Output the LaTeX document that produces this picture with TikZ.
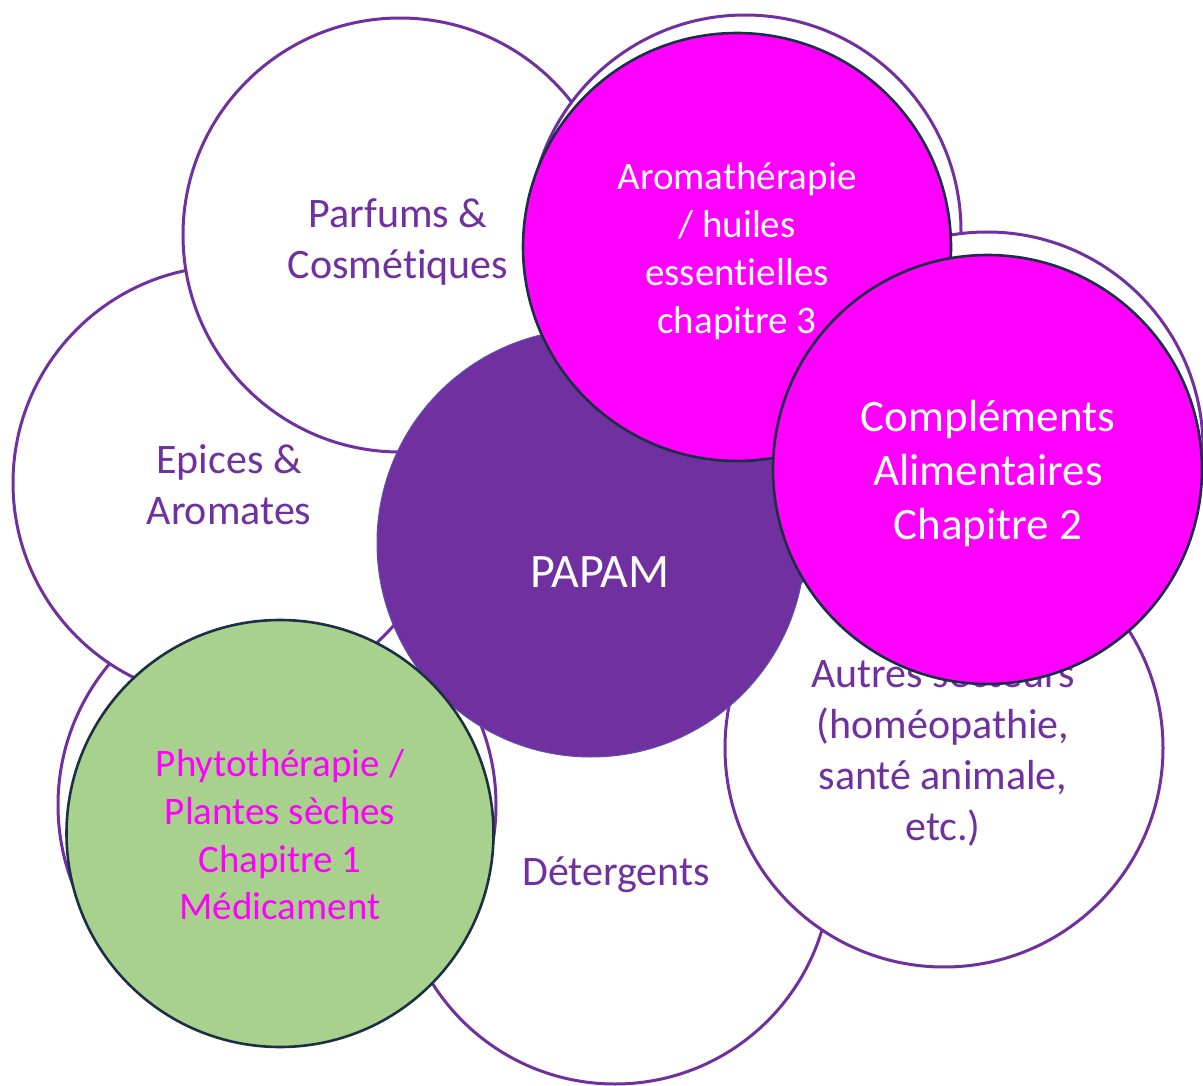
\documentclass[tikz,border=0pt]{standalone}
\usepackage{fontspec}
\setmainfont{Carlito}[Ligatures=CommonOff]
\definecolor{ringpurple}{HTML}{7030A0}
\definecolor{papamfill}{HTML}{7030A0}
\definecolor{hotpink}{HTML}{FF00FF}
\definecolor{leaf}{HTML}{A9D18E}
\definecolor{edgenavy}{HTML}{1B2F45}
\begin{document}
\begin{tikzpicture}[x=1pt,y=-1pt,
  ring/.style={circle, draw=ringpurple, line width=3pt, fill=white, inner sep=0pt},
  hub/.style={circle, fill=papamfill, draw=papamfill!85!cyan, line width=1pt, inner sep=0pt},
  overlay/.style={circle, draw=edgenavy, line width=2.6pt, inner sep=0pt},
  ringtext/.style={align=center, inner sep=0pt, text=ringpurple, font=\fontsize{42}{51}\selectfont},
]
\useasboundingbox (0,0) rectangle (1203,1086);
% white ring circles (bottom to top)
\node[ring, minimum size=432pt] (det) at (615,868) {};
\node[ring, minimum size=438pt] (phyback) at (277,805) {};
\node[ring, minimum size=434pt] (epi) at (230,483) {};
\node[ring, minimum size=434pt] (parf) at (400,235) {};
\node[ring, minimum size=432pt] (aroback) at (745,231) {};
\node[ring, minimum size=432pt] (compback) at (987,448) {};
\node[ring, minimum size=438pt] (autres) at (944,748) {};
% hub
\node[hub, minimum size=428pt] (hubc) at (591,543) {};
% ring texts
\node[ringtext] (tparf) at (398,242) {Parfums \&\\Cosmétiques};
\node[ringtext] (tepi) at (229,485) {Epices \&\\Aromates};
\node[ringtext] (tdet) at (616,875) {Détergents};
\node[ringtext] (tautres) at (943,753) {Autres secteurs\\(homéopathie,\\santé animale,\\etc.)};
\node[text=white, inner sep=0pt, font=\fontsize{48}{58}\selectfont] (tpapam) at (600,572) {PAPAM};
% coloured overlays
\node[overlay, fill=hotpink, minimum size=428pt] (aro) at (737,247) {};
\node[align=center, inner sep=0pt, text=white, font=\fontsize{39}{48}\selectfont] (taro) at (737,251) {Aromathérapie\\/ huiles\\essentielles\\chapitre 3};
\node[overlay, fill=hotpink, minimum size=429pt] (comp) at (987.5,469.5) {};
\node[align=center, inner sep=0pt, text=white, font=\fontsize{45}{54}\selectfont] (tcomp) at (988,474) {Compléments\\Alimentaires\\Chapitre 2};
\node[overlay, fill=leaf, minimum size=427pt] (phy) at (280,833.5) {};
\node[align=center, inner sep=0pt, text=hotpink, font=\fontsize{39}{47.7}\selectfont] (tphy) at (280,835) {Phytothérapie /\\Plantes sèches\\Chapitre 1\\Médicament};
\end{tikzpicture}
\end{document}
